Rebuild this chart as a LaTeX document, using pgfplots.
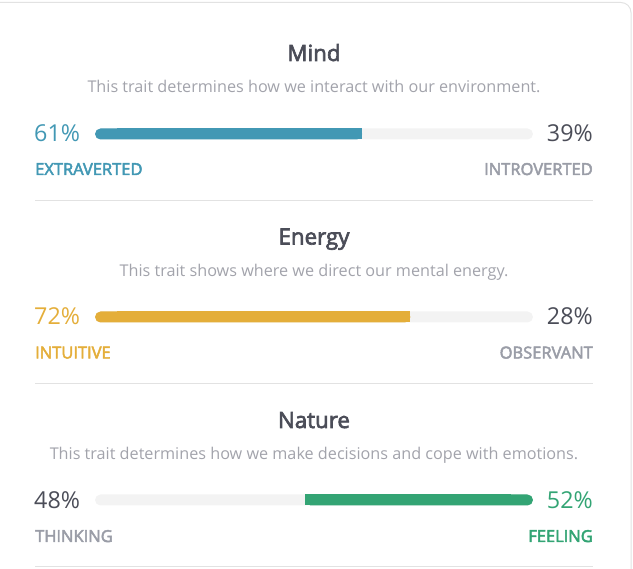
\documentclass[border=0pt]{standalone}
\usepackage{fontspec}
\setmainfont{Open Sans}
\newfontfamily\semib[FakeBold=3]{Open Sans}
\usepackage{pgfplots}
\pgfplotsset{compat=1.18}
\definecolor{mindc}{HTML}{4298B4}
\definecolor{energyc}{HTML}{E4AE3A}
\definecolor{naturec}{HTML}{33A474}
\definecolor{trackc}{HTML}{F3F3F3}
\definecolor{darkt}{HTML}{4B4D58}
\definecolor{subt}{HTML}{A2A3AB}
\definecolor{labt}{HTML}{9A9DA7}
\definecolor{linec}{HTML}{E2E2E2}
\pgfplotsset{barax/.style={width=438pt, height=11pt, scale only axis, hide axis,
  xmin=0, xmax=100, ymin=-0.5, ymax=0.5, clip=false, bar width=11pt, anchor=west}}
\newcommand\ttl{\semib\fontsize{22.3}{26}\selectfont}
\newcommand\sbt{\fontsize{16.2}{19}\selectfont}
\newcommand\pct{\fontsize{23.3}{27}\selectfont}
\newcommand\lbl{\semib\fontsize{16.5}{19}\selectfont}
\begin{document}
\begin{tikzpicture}
\begin{scope}[x=1pt,y=1pt]
\useasboundingbox (0,0) rectangle (633,-569);
\begin{scope}
\clip (0,0) rectangle (633,-569);
\draw[draw=linec, line width=1pt, rounded corners=10pt] (-30,-2.5) rectangle (631,-620);
\end{scope}
% ---------- Mind ----------
\node[anchor=base, font=\ttl, text=darkt] at (314,-61) {Mind};
\node[anchor=base, font=\sbt, text=subt] at (314,-93) {This trait determines how we interact with our environment.};
\node[anchor=base west, font=\pct, text=mindc, inner sep=0pt] at (34,-141.5) {61\%};
\node[anchor=base east, font=\pct, text=darkt, inner sep=0pt] at (593,-141.5) {39\%};
\node[anchor=base west, font=\lbl, text=mindc, inner sep=0pt] at (35,-175) {EXTRAVERTED};
\node[anchor=base east, font=\lbl, text=labt, inner sep=0pt] at (593,-175) {INTROVERTED};
\draw[linec, line width=1pt] (35,-200.5) -- (593,-200.5);
% ---------- Energy ----------
\node[anchor=base, font=\ttl, text=darkt] at (314,-244.5) {Energy};
\node[anchor=base, font=\sbt, text=subt] at (314,-276.5) {This trait shows where we direct our mental energy.};
\node[anchor=base west, font=\pct, text=energyc, inner sep=0pt] at (34,-325) {72\%};
\node[anchor=base east, font=\pct, text=darkt, inner sep=0pt] at (593,-325) {28\%};
\node[anchor=base west, font=\lbl, text=energyc, inner sep=0pt] at (35,-358.5) {INTUITIVE};
\node[anchor=base east, font=\lbl, text=labt, inner sep=0pt] at (593,-358.5) {OBSERVANT};
\draw[linec, line width=1pt] (35,-383.5) -- (593,-383.5);
% ---------- Nature ----------
\node[anchor=base, font=\ttl, text=darkt] at (314,-428) {Nature};
\node[anchor=base, font=\sbt, text=subt] at (314,-460) {This trait determines how we make decisions and cope with emotions.};
\node[anchor=base west, font=\pct, text=darkt, inner sep=0pt] at (34,-508.5) {48\%};
\node[anchor=base east, font=\pct, text=naturec, inner sep=0pt] at (593,-508.5) {52\%};
\node[anchor=base west, font=\lbl, text=labt, inner sep=0pt] at (35,-542) {THINKING};
\node[anchor=base east, font=\lbl, text=naturec, inner sep=0pt] at (593,-542) {FEELING};
\draw[linec, line width=1pt] (35,-567) -- (593,-567);
\end{scope}
\begin{axis}[barax, at={(95pt,-134pt)}]
\addplot[xbar, fill=trackc, draw=none, rounded corners=5.5pt] coordinates {(100,0)};
\addplot[xbar, fill=mindc, draw=none, rounded corners=5.5pt] coordinates {(61,0)};
\addplot[fill=mindc, draw=none] coordinates {(5,-0.5) (61,-0.5) (61,0.5) (5,0.5)} -- cycle;
\end{axis}
\begin{axis}[barax, at={(95pt,-317pt)}]
\addplot[xbar, fill=trackc, draw=none, rounded corners=5.5pt] coordinates {(100,0)};
\addplot[xbar, fill=energyc, draw=none, rounded corners=5.5pt] coordinates {(72,0)};
\addplot[fill=energyc, draw=none] coordinates {(5,-0.5) (72,-0.5) (72,0.5) (5,0.5)} -- cycle;
\end{axis}
\begin{axis}[barax, at={(95pt,-500pt)}, x dir=reverse]
\addplot[xbar, fill=trackc, draw=none, rounded corners=5.5pt] coordinates {(100,0)};
\addplot[xbar, fill=naturec, draw=none, rounded corners=5.5pt] coordinates {(52,0)};
\addplot[fill=naturec, draw=none] coordinates {(5,-0.5) (52,-0.5) (52,0.5) (5,0.5)} -- cycle;
\end{axis}
\end{tikzpicture}
\end{document}
